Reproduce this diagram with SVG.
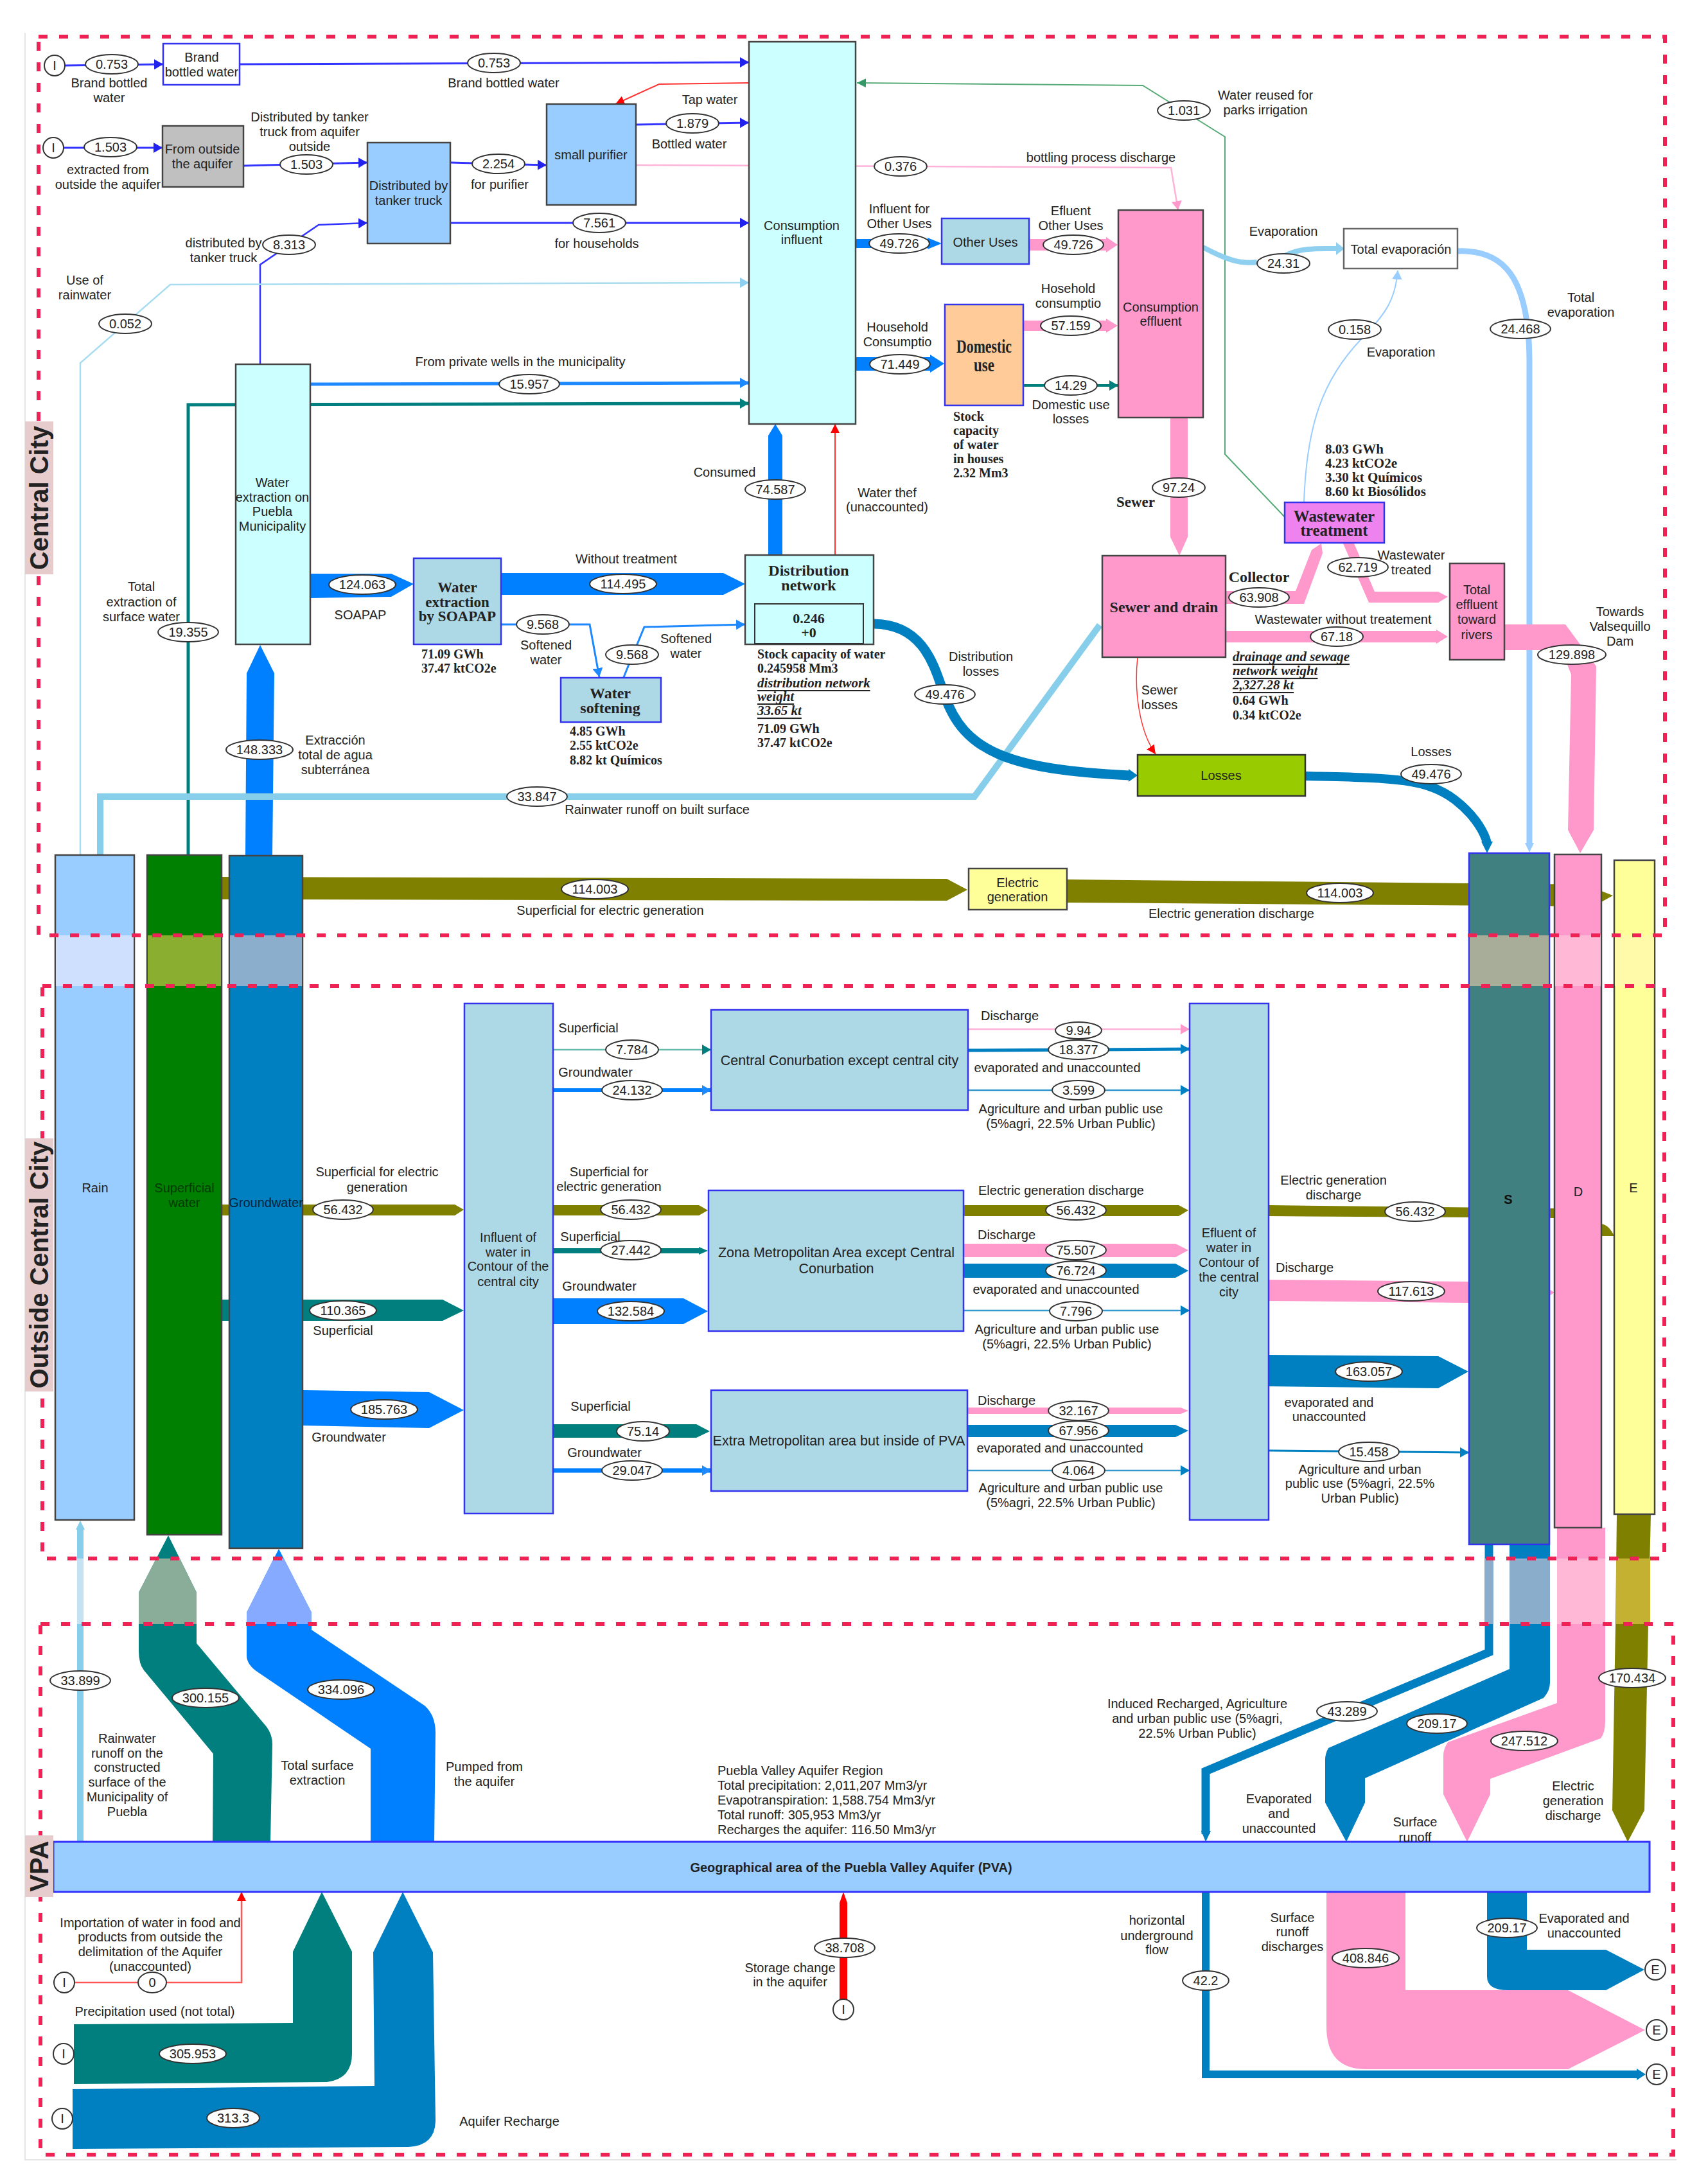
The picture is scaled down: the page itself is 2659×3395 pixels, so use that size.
<svg xmlns="http://www.w3.org/2000/svg" width="2659" height="3395" viewBox="0 0 2659 3395">
<style>
text{font-family:"Liberation Sans",Arial,sans-serif;font-size:20px;fill:#222;text-anchor:middle;dominant-baseline:central}
.l{text-anchor:start}
.s{font-family:"Liberation Serif","Times New Roman",serif;font-weight:bold;font-size:20px}
.u{font-style:italic;text-decoration:underline;font-size:21px}
.h{font-size:24px}
.t{font-size:21.5px}
.side{font-weight:bold;font-size:40px}
.side-bg{fill:#e6cccc}
.b{stroke:#444;stroke-width:2.5}
.bb{stroke:#3333ee;stroke-width:2.5}
.ell{fill:#fff;stroke:#333;stroke-width:2}
.frame{fill:none;stroke:#ee2255;stroke-width:6;stroke-dasharray:14 18}
.ln{fill:none}
.lblue{stroke:#3333ff;stroke-width:3}
.lazure{stroke:#1e88ff;stroke-width:3}
.lwell{stroke:#1e88ff;stroke-width:5}
.lteal{stroke:#007f7f;stroke-width:5}
.lmid{stroke:#3399cc;stroke-width:2.5}
.ldark{stroke:#0080c0}
.lsky{stroke:#a8dcf0;stroke-width:2.5}
.lpale{stroke:#99ccff;stroke-width:2}
.lpink{stroke:#ffb3d9;stroke-width:2.5}
.lred{stroke:#ff3333;stroke-width:2}
.lgreen{stroke:#55aa77;stroke-width:2}
.olive{fill:#808000}.pink{fill:#ff99cc}.teal{fill:#007f7f}.azure{fill:#0080ff}.dark{fill:#0080c0}
</style>
<defs>
<marker id="mBlue" markerUnits="userSpaceOnUse" markerWidth="14" markerHeight="16" viewBox="0 0 14 16" refX="14" refY="8" orient="auto"><path d="M0,0L14,8L0,16Z" fill="#2222ee"/></marker>
<marker id="mAzure" markerUnits="userSpaceOnUse" markerWidth="14" markerHeight="16" viewBox="0 0 14 16" refX="14" refY="8" orient="auto"><path d="M0,0L14,8L0,16Z" fill="#1e88ff"/></marker>
<marker id="mTeal" markerUnits="userSpaceOnUse" markerWidth="14" markerHeight="16" viewBox="0 0 14 16" refX="14" refY="8" orient="auto"><path d="M0,0L14,8L0,16Z" fill="#007f7f"/></marker>
<marker id="mDark" markerUnits="userSpaceOnUse" markerWidth="14" markerHeight="16" viewBox="0 0 14 16" refX="14" refY="8" orient="auto"><path d="M0,0L14,8L0,16Z" fill="#0080c0"/></marker>
<marker id="mSky" markerUnits="userSpaceOnUse" markerWidth="14" markerHeight="16" viewBox="0 0 14 16" refX="14" refY="8" orient="auto"><path d="M0,0L14,8L0,16Z" fill="#8fd0f0"/></marker>
<marker id="mPale" markerUnits="userSpaceOnUse" markerWidth="14" markerHeight="16" viewBox="0 0 14 16" refX="14" refY="8" orient="auto"><path d="M0,0L14,8L0,16Z" fill="#99ccff"/></marker>
<marker id="mPink" markerUnits="userSpaceOnUse" markerWidth="14" markerHeight="16" viewBox="0 0 14 16" refX="14" refY="8" orient="auto"><path d="M0,0L14,8L0,16Z" fill="#ff99cc"/></marker>
<marker id="mRed" markerUnits="userSpaceOnUse" markerWidth="14" markerHeight="14" viewBox="0 0 14 14" refX="14" refY="7" orient="auto"><path d="M0,0L14,7L0,14Z" fill="#ff0000"/></marker>
<marker id="mGreen" markerUnits="userSpaceOnUse" markerWidth="14" markerHeight="14" viewBox="0 0 14 14" refX="14" refY="7" orient="auto"><path d="M0,0L14,7L0,14Z" fill="#339966"/></marker>
</defs>
<rect width="2659" height="3395" fill="#fff"/>
<path d="M39,51V3362H2610" fill="none" stroke="#e6e6e6" stroke-width="2"/>

<g id="connectors">
<path class="ln lblue" d="M99,102L254,100" marker-end="url(#mBlue)"/>
<path class="ln lblue" d="M373,100L1166,97" marker-end="url(#mBlue)"/>
<path class="ln lred" d="M1166,129L1026,131L958,162" marker-end="url(#mRed)"/>
<path class="ln lblue" d="M99,230H253" marker-end="url(#mBlue)"/>
<path class="ln lblue" d="M379,258L572,253" marker-end="url(#mBlue)"/>
<path class="ln lblue" d="M701,253L851,257" marker-end="url(#mBlue)"/>
<path class="ln lblue" d="M990,194L1166,191" marker-end="url(#mBlue)"/>
<path class="ln lblue" d="M701,347H1166" marker-end="url(#mBlue)"/>
<path class="ln lblue" style="stroke-width:2.5" d="M405,567V412L496,350L572,347" marker-end="url(#mBlue)"/>
<path class="ln lpink" d="M990,257L1823,261L1834,327" marker-end="url(#mPink)"/>
<path class="ln lsky" d="M125,1331V565L265,443L1166,440" marker-end="url(#mSky)"/>
<path class="ln lwell" d="M483,598L1166,596" marker-end="url(#mAzure)"/>
<path class="ln lteal" d="M293,1331V630L1166,628" marker-end="url(#mTeal)"/>
<path class="ln lgreen" d="M2005,810L1907,707V213L1779,133L1334,129" marker-end="url(#mGreen)"/>
<path class="ln lred" d="M1300,864V660" marker-end="url(#mRed)"/>
<path class="ln lazure" d="M780,972H918L933,1054" marker-end="url(#mAzure)"/>
<path class="ln lazure" d="M971,1054L1003,976L1160,972" marker-end="url(#mAzure)"/>
<path class="ln lred" style="stroke-width:1.5" d="M1771,1023C1765,1080 1775,1140 1799,1174" marker-end="url(#mRed)"/>
<path class="ln lpale" d="M2030,782C2034,660 2060,590 2119,528C2155,490 2172,470 2176,421" marker-end="url(#mPale)"/>
<path class="ln" style="stroke:#8fd0f0;stroke-width:8" d="M1873,385C1905,402 1930,412 1957,408"/>
<path class="ln" style="stroke:#8fd0f0;stroke-width:8" d="M2000,398C2025,385 2055,387 2080,387"/>
<path d="M2080,377L2093,387L2080,397Z" fill="#8fd0f0"/>
<path class="ln" style="stroke:#99ccff;stroke-width:9" d="M2269,391C2340,388 2380,430 2381,560V1312"/>
<path d="M2374,1312H2388L2381,1327Z" fill="#99ccff"/>
<path class="ln lteal" style="stroke-width:4" d="M1593,600H1741" marker-end="url(#mTeal)"/>

<path class="azure" d="M1196,864V678L1207,660L1218,678V864Z"/>
<path class="azure" d="M1332,372H1444V370L1466,379L1444,388V386H1332Z"/>
<path class="azure" d="M1332,556H1448V552L1470,566L1448,580V577H1332Z"/>
<path class="pink" d="M1602,372H1722V369L1740,381L1722,393V390H1602Z"/>
<path class="pink" d="M1593,499H1722V496L1740,507L1722,518V515H1593Z"/>
<path class="pink" d="M1822,650H1849V836L1836,865L1822,836Z"/>
<path class="pink" d="M1908,920H2017L2042,856L2057,846L2059,861L2030,940H1908Z"/>
<path class="pink" d="M2091,846H2108L2140,921H2239L2254,929L2239,938H2131Z"/>
<path class="pink" d="M1908,982H2236V980L2254,991L2236,1002V1000H1908Z"/>
<path class="pink" d="M2342,972H2437L2485,1037L2481,1292L2460,1328L2441,1292L2446,1050L2431,1012H2342Z"/>
<path class="azure" d="M780,892H1126L1160,909L1126,926H780Z"/>
<path class="azure" d="M483,893H609L644,909L609,929L483,931Z"/>
<path class="azure" d="M382,1331L384,1048L405,1004L427,1048L424,1331Z"/>
<path class="ln" style="stroke:#87ceeb;stroke-width:10" d="M156,1331V1240H1517L1712,973"/>
<path class="ln ldark" style="stroke-width:15" d="M1360,971C1440,972 1455,1040 1470,1081C1500,1170 1570,1198 1758,1207"/>
<path class="dark" d="M1757,1197L1771,1207L1757,1217Z"/>
<path class="ln ldark" style="stroke-width:14" d="M2032,1208C2160,1211 2220,1210 2265,1245C2300,1272 2312,1300 2315,1312"/>
<path class="dark" d="M2306,1310H2324L2315,1328Z"/>
<path class="olive" d="M345,1365L1474,1368L1506,1385L1474,1402L345,1400Z"/>
<path class="olive" d="M1661,1369L2493,1377V1387L2511,1394L2493,1404V1411L1661,1405Z"/>

<path class="olive" d="M345,1875H708L722,1883L708,1892H345Z"/>
<path class="teal" d="M345,2023H689L722,2040L689,2056H345Z"/>
<path class="azure" d="M471,2164L668,2167L722,2195L668,2223L471,2219Z"/>
<path class="ln lteal" style="stroke:#66bbaa;stroke-width:2.5" d="M861,1634H1107" marker-end="url(#mTeal)"/>
<path class="ln" style="stroke:#0080ff;stroke-width:6" d="M861,1697H1107" marker-end="url(#mAzure)"/>
<path class="olive" d="M861,1876H1088L1102,1884L1088,1892H861Z"/>
<path class="teal" d="M861,1943H1088V1941L1102,1947L1088,1953V1951H861Z"/>
<path class="azure" d="M861,2021H1064L1102,2041L1064,2061H861Z"/>
<path class="teal" d="M861,2217H1084L1105,2228L1084,2238H861Z"/>
<path class="ln" style="stroke:#0080ff;stroke-width:7" d="M861,2289H1107" marker-end="url(#mAzure)"/>
<path class="ln lpink" d="M1507,1602H1852" marker-end="url(#mPink)"/>
<path class="ln ldark" style="stroke-width:5" d="M1507,1635L1852,1633" marker-end="url(#mDark)"/>
<path class="ln lmid" d="M1507,1697H1852" marker-end="url(#mDark)"/>
<path class="olive" d="M1500,1876H1835L1850,1884L1835,1893H1500Z"/>
<path class="pink" d="M1500,1936H1830L1850,1946L1830,1957H1500Z"/>
<path class="dark" d="M1500,1967H1830L1850,1978L1830,1989H1500Z"/>
<path class="ln lmid" d="M1500,2040H1852" marker-end="url(#mDark)"/>
<path class="pink" d="M1506,2191H1838L1850,2196L1838,2201H1506Z"/>
<path class="dark" d="M1506,2218H1830L1850,2227L1830,2237H1506Z"/>
<path class="ln lmid" d="M1506,2289H1852" marker-end="url(#mDark)"/>
<path class="olive" d="M1975,1876L2420,1881V1896L1975,1893Z"/>
<path class="olive" d="M2493,1905Q2505,1907 2513,1924H2493Z"/>
<path class="pink" d="M1975,1992L2287,1995V2028L1975,2025Z"/>
<path class="pink" d="M2410,2006L2420,2012L2410,2018Z"/>
<path class="dark" d="M1975,2109L2239,2111L2286,2135L2239,2161L1975,2158Z"/>
<path class="ln ldark" style="stroke-width:3" d="M1975,2258L2287,2261" marker-end="url(#mDark)"/>

<path class="ln" style="stroke:#87ceeb;stroke-width:10" d="M125,2867V2380"/>
<path d="M118,2381L125,2367L132,2381Z" fill="#87ceeb"/>
<path class="teal" d="M262,2390L216,2479V2570Q216,2590 224,2600L332,2730L331,2867H421L424,2715Q424,2700 415,2688L306,2558V2479Z"/>
<path class="azure" d="M434,2411L384,2510V2577Q384,2592 403,2604L577,2722V2867H676L678,2697Q678,2670 661,2655L485,2537V2510Z"/>
<path class="ln ldark" style="stroke-width:13" d="M2318,2404V2572L1877,2757V2855"/>
<path class="dark" d="M1870,2850H1885L1877,2867Z"/>
<path class="dark" d="M2350,2404H2413V2619Q2413,2632 2403,2643L2125,2768V2806L2096,2867L2063,2806V2739Q2063,2730 2068,2721L2350,2598Z"/>
<path class="pink" d="M2424,2378H2499V2679Q2499,2697 2492,2706L2320,2769V2793L2284,2867L2247,2793V2733Q2247,2722 2254,2712L2424,2651Z"/>
<path class="olive" d="M2517,2357H2570L2566,2528L2560,2818L2534,2867L2510,2818L2515,2528Z"/>
<g id="band2">
<path fill="#8aad9a" d="M243,2426H280L306,2479V2528H216V2479Z"/>
<path fill="#85aaff" d="M426,2426H442L485,2510V2528H384V2510Z"/>
<rect x="120" y="2426" width="10" height="102" fill="#c5e2f2"/>
<rect x="2311" y="2426" width="14" height="102" fill="#8aadcb"/>
<rect x="2350" y="2426" width="63" height="102" fill="#8aadcb"/>
<rect x="2424" y="2426" width="75" height="102" fill="#ffb8d6"/>
<rect x="2516" y="2426" width="53" height="102" fill="#c4b132"/>
</g>
<path class="ln" style="stroke:#ff5555;stroke-width:2.5" d="M100,3086H376V2945" marker-end="url(#mRed)"/>
<path fill="#ff0000" d="M1307,3113V2962L1313,2945L1319,2962V3113Z"/>
<path class="teal" d="M115,3151L456,3149V3038L501,2945L548,3038V3197Q548,3236 509,3241L115,3244Z"/>
<path class="dark" d="M113,3252L583,3247L581,3039L627,2945L674,3039L678,3300Q678,3340 636,3342L113,3345Z"/>
<path class="ln ldark" style="stroke-width:12" d="M1877,2945V3229H2550"/>
<path class="dark" d="M2548,3220L2562,3229L2548,3238Z"/>
<path class="pink" d="M2065,2945H2188V3098H2441L2561,3160L2441,3221H2127Q2065,3221 2065,3155Z"/>
<path class="dark" d="M2315,2945H2377V3035H2500L2560,3066L2500,3098H2348Q2315,3098 2315,3077Z"/>
</g>

<g id="node-rain"><rect class="b" x="86" y="1331" width="123" height="1035" fill="#99ccff"/><rect x="87" y="1456" width="121" height="79" fill="#cfe0ff"/><text x="148" y="1849">Rain</text></g>
<g id="node-superficial"><rect class="b" x="229" y="1331" width="116" height="1058" fill="#008000"/><rect x="230" y="1456" width="114" height="79" fill="#8aae30"/><text x="287" y="1849" style="fill:#003a00"><tspan x="287">Superficial</tspan><tspan x="287" dy="23">water</tspan></text></g>
<g id="node-groundwater"><rect class="b" x="357" y="1332" width="114" height="1078" fill="#0080c0"/><rect x="358" y="1456" width="112" height="79" fill="#8aaecb"/><text x="414" y="1872" style="fill:#04233c">Groundwater</text></g>
<g id="node-s"><rect class="bb" x="2287" y="1328" width="125" height="1076" fill="#408080"/><rect x="2288" y="1456" width="123" height="79" fill="#a8ad99"/><text x="2348" y="1867" style="font-weight:bold;fill:#111">S</text></g>
<g id="node-d"><rect class="b" x="2420" y="1330" width="73" height="1048" fill="#ff99cc"/><rect x="2421" y="1456" width="71" height="79" fill="#ffb8d6"/><text x="2457" y="1855">D</text></g>
<g id="node-e"><rect class="b" x="2513" y="1339" width="63" height="1018" fill="#ffff99"/><rect x="2514" y="1456" width="61" height="79" fill="#fffaaa"/><text x="2543" y="1849">E</text></g>

<g id="node-brand"><rect class="bb" x="254" y="68" width="119" height="64" fill="#fff"/><text x="314" y="89"><tspan x="314">Brand</tspan><tspan x="314" dy="23">bottled water</tspan></text></g>
<g id="node-outside"><rect class="b" x="253" y="196" width="126" height="95" fill="#c0c0c0"/><text x="315" y="232"><tspan x="315">From outside</tspan><tspan x="315" dy="23">the aquifer</tspan></text></g>
<g id="node-tanker"><rect class="b" x="572" y="222" width="129" height="157" fill="#99ccff"/><text x="636" y="289"><tspan x="636">Distributed by</tspan><tspan x="636" dy="23">tanker truck</tspan></text></g>
<g id="node-purifier"><rect class="b" x="851" y="162" width="139" height="157" fill="#99ccff"/><text x="920" y="241">small purifier</text></g>
<g id="node-consumption-influent"><rect class="b" x="1166" y="65" width="166" height="595" fill="#ccffff"/><text x="1248" y="351"><tspan x="1248">Consumption</tspan><tspan x="1248" dy="22">influent</tspan></text></g>
<g id="node-other-uses"><rect class="bb" x="1466" y="340" width="136" height="71" fill="#add8e6"/><text x="1534" y="377">Other Uses</text></g>
<g id="node-domestic"><rect class="bb" x="1471" y="474" width="122" height="157" fill="#ffcc99"/><text x="1532" y="538" class="s" style="font-size:30px" textLength="86" lengthAdjust="spacingAndGlyphs">Domestic</text><text x="1532" y="567" class="s" style="font-size:30px" textLength="32" lengthAdjust="spacingAndGlyphs">use</text></g>
<g id="node-consumption-effluent"><rect class="b" x="1741" y="327" width="132" height="323" fill="#ff99cc"/><text x="1807" y="478"><tspan x="1807">Consumption</tspan><tspan x="1807" dy="22">effluent</tspan></text></g>
<g id="node-evaporation"><rect x="2092" y="356" width="177" height="62" fill="#fff" stroke="#666" stroke-width="2.5"/><text x="2181" y="388">Total evaporación</text></g>
<g id="node-extraction"><rect class="b" x="367" y="567" width="116" height="436" fill="#ccffff"/><text x="424" y="751"><tspan x="424">Water</tspan><tspan x="424" dy="23">extraction on</tspan><tspan x="424" dy="22">Puebla</tspan><tspan x="424" dy="23">Municipality</tspan></text></g>
<g id="node-soapap"><rect class="bb" x="644" y="869" width="136" height="134" fill="#add8e6"/><text x="712" y="914" class="s" style="font-size:23px"><tspan x="712">Water</tspan><tspan x="712" dy="23">extraction</tspan><tspan x="712" dy="22">by SOAPAP</tspan></text></g>
<g id="node-softening"><rect class="bb" x="873" y="1055" width="156" height="69" fill="#add8e6"/><text x="950" y="1079" class="s h"><tspan x="950">Water</tspan><tspan x="950" dy="23">softening</tspan></text></g>
<g id="node-distribution"><rect class="b" x="1160" y="864" width="200" height="139" fill="#ccffff"/><rect x="1175" y="940" width="169" height="62" fill="#ccffff" stroke="#333" stroke-width="2"/><text x="1259" y="888" class="s h"><tspan x="1259">Distribution</tspan><tspan x="1259" dy="23">network</tspan></text><text x="1259" y="962" class="s" style="font-size:22px"><tspan x="1259">0.246</tspan><tspan x="1259" dy="22">+0</tspan></text></g>
<g id="node-wastewater"><rect class="bb" x="2000" y="782" width="155" height="63" fill="#ee82ee"/><text x="2077" y="803" class="s" style="font-size:25px"><tspan x="2077">Wastewater</tspan><tspan x="2077" dy="22">treatment</tspan></text></g>
<g id="node-sewer"><rect class="b" x="1716" y="865" width="192" height="158" fill="#ff99cc"/><text x="1812" y="945" class="s h">Sewer and drain</text></g>
<g id="node-effluent-rivers"><rect class="b" x="2257" y="877" width="85" height="150" fill="#ff99cc"/><text x="2299" y="918"><tspan x="2299">Total</tspan><tspan x="2299" dy="23">effluent</tspan><tspan x="2299" dy="23">toward</tspan><tspan x="2299" dy="24">rivers</tspan></text></g>
<g id="node-losses"><rect x="1771" y="1175" width="261" height="64" fill="#99cc00" stroke="#333" stroke-width="2.5"/><text x="1901" y="1207">Losses</text></g>
<g id="node-electric"><rect class="b" x="1508" y="1352" width="153" height="64" fill="#ffff99"/><text x="1584" y="1374"><tspan x="1584">Electric</tspan><tspan x="1584" dy="22">generation</tspan></text></g>
<g id="node-influent-contour"><rect class="bb" x="723" y="1562" width="138" height="794" fill="#add8e6"/><text x="791" y="1926"><tspan x="791">Influent of</tspan><tspan x="791" dy="23">water in</tspan><tspan x="791" dy="22">Contour of the</tspan><tspan x="791" dy="24">central city</tspan></text></g>
<g id="node-central"><rect class="bb" x="1107" y="1572" width="400" height="156" fill="#add8e6"/><text x="1307" y="1651" class="t">Central Conurbation except central city</text></g>
<g id="node-zona"><rect class="bb" x="1103" y="1853" width="397" height="219" fill="#add8e6"/><text x="1302" y="1950" class="t"><tspan x="1302">Zona Metropolitan Area except Central</tspan><tspan x="1302" dy="25">Conurbation</tspan></text></g>
<g id="node-extra"><rect class="bb" x="1107" y="2164" width="399" height="157" fill="#add8e6"/><text x="1306" y="2243" class="t">Extra Metropolitan area but inside of PVA</text></g>
<g id="node-effluent-contour"><rect class="bb" x="1852" y="1562" width="123" height="804" fill="#add8e6"/><text x="1913" y="1919"><tspan x="1913">Efluent of</tspan><tspan x="1913" dy="23">water in</tspan><tspan x="1913" dy="23">Contour of</tspan><tspan x="1913" dy="23">the central</tspan><tspan x="1913" dy="23">city</tspan></text></g>
<g id="node-pva"><rect x="83" y="2867" width="2485" height="78" fill="#99ccff" stroke="#3333ff" stroke-width="3"/><text x="1325" y="2907" style="font-weight:bold;font-size:20px">Geographical area of the Puebla Valley Aquifer (PVA)</text></g>

<g id="terminals">
<g id="node-i1"><ellipse class="ell" cx="85" cy="102" rx="16" ry="16"/><text x="85" y="102">I</text></g>
<g id="node-i2"><ellipse class="ell" cx="83" cy="230" rx="16" ry="16"/><text x="83" y="230">I</text></g>
<g id="node-i3"><ellipse class="ell" cx="100" cy="3086" rx="16" ry="16"/><text x="100" y="3086">I</text></g>
<g id="node-i4"><ellipse class="ell" cx="99" cy="3197" rx="16" ry="16"/><text x="99" y="3197">I</text></g>
<g id="node-i5"><ellipse class="ell" cx="97" cy="3298" rx="16" ry="16"/><text x="97" y="3298">I</text></g>
<g id="node-i6"><ellipse class="ell" cx="1313" cy="3128" rx="16" ry="16"/><text x="1313" y="3128">I</text></g>
<g id="node-e1"><ellipse class="ell" cx="2577" cy="3066" rx="16" ry="16"/><text x="2577" y="3066">E</text></g>
<g id="node-e2"><ellipse class="ell" cx="2579" cy="3160" rx="16" ry="16"/><text x="2579" y="3160">E</text></g>
<g id="node-e3"><ellipse class="ell" cx="2579" cy="3229" rx="16" ry="16"/><text x="2579" y="3229">E</text></g>
</g>

<g id="value-labels">
<g><ellipse class="ell" cx="174" cy="100" rx="41" ry="15"/><text x="174" y="100">0.753</text></g>
<g><ellipse class="ell" cx="769" cy="98" rx="41" ry="15"/><text x="769" y="98">0.753</text></g>
<g><ellipse class="ell" cx="172" cy="229" rx="41" ry="15"/><text x="172" y="229">1.503</text></g>
<g><ellipse class="ell" cx="477" cy="256" rx="41" ry="15"/><text x="477" y="256">1.503</text></g>
<g><ellipse class="ell" cx="776" cy="255" rx="41" ry="15"/><text x="776" y="255">2.254</text></g>
<g><ellipse class="ell" cx="1078" cy="192" rx="41" ry="15"/><text x="1078" y="192">1.879</text></g>
<g><ellipse class="ell" cx="933" cy="347" rx="41" ry="15"/><text x="933" y="347">7.561</text></g>
<g><ellipse class="ell" cx="450" cy="381" rx="41" ry="15"/><text x="450" y="381">8.313</text></g>
<g><ellipse class="ell" cx="195" cy="504" rx="41" ry="15"/><text x="195" y="504">0.052</text></g>
<g><ellipse class="ell" cx="824" cy="598" rx="47" ry="15"/><text x="824" y="598">15.957</text></g>
<g><ellipse class="ell" cx="1402" cy="259" rx="41" ry="15"/><text x="1402" y="259">0.376</text></g>
<g><ellipse class="ell" cx="1843" cy="172" rx="41" ry="15"/><text x="1843" y="172">1.031</text></g>
<g><ellipse class="ell" cx="1400" cy="379" rx="47" ry="15"/><text x="1400" y="379">49.726</text></g>
<g><ellipse class="ell" cx="1671" cy="381" rx="47" ry="15"/><text x="1671" y="381">49.726</text></g>
<g><ellipse class="ell" cx="1401" cy="567" rx="47" ry="15"/><text x="1401" y="567">71.449</text></g>
<g><ellipse class="ell" cx="1667" cy="507" rx="47" ry="15"/><text x="1667" y="507">57.159</text></g>
<g><ellipse class="ell" cx="1667" cy="600" rx="41" ry="15"/><text x="1667" y="600">14.29</text></g>
<g><ellipse class="ell" cx="1998" cy="410" rx="41" ry="15"/><text x="1998" y="410">24.31</text></g>
<g><ellipse class="ell" cx="2367" cy="512" rx="47" ry="15"/><text x="2367" y="512">24.468</text></g>
<g><ellipse class="ell" cx="2109" cy="513" rx="41" ry="15"/><text x="2109" y="513">0.158</text></g>
<g><ellipse class="ell" cx="1207" cy="762" rx="47" ry="15"/><text x="1207" y="762">74.587</text></g>
<g><ellipse class="ell" cx="1835" cy="759" rx="41" ry="15"/><text x="1835" y="759">97.24</text></g>
<g><ellipse class="ell" cx="1960" cy="930" rx="47" ry="15"/><text x="1960" y="930">63.908</text></g>
<g><ellipse class="ell" cx="2114" cy="883" rx="47" ry="15"/><text x="2114" y="883">62.719</text></g>
<g><ellipse class="ell" cx="2081" cy="991" rx="41" ry="15"/><text x="2081" y="991">67.18</text></g>
<g><ellipse class="ell" cx="2447" cy="1019" rx="53" ry="15"/><text x="2447" y="1019">129.898</text></g>
<g><ellipse class="ell" cx="970" cy="909" rx="52" ry="15"/><text x="970" y="909">114.495</text></g>
<g><ellipse class="ell" cx="564" cy="910" rx="52" ry="15"/><text x="564" y="910">124.063</text></g>
<g><ellipse class="ell" cx="845" cy="972" rx="41" ry="15"/><text x="845" y="972">9.568</text></g>
<g><ellipse class="ell" cx="984" cy="1019" rx="41" ry="15"/><text x="984" y="1019">9.568</text></g>
<g><ellipse class="ell" cx="293" cy="984" rx="47" ry="15"/><text x="293" y="984">19.355</text></g>
<g><ellipse class="ell" cx="404" cy="1167" rx="52" ry="15"/><text x="404" y="1167">148.333</text></g>
<g><ellipse class="ell" cx="836" cy="1240" rx="47" ry="15"/><text x="836" y="1240">33.847</text></g>
<g><ellipse class="ell" cx="1471" cy="1081" rx="47" ry="15"/><text x="1471" y="1081">49.476</text></g>
<g><ellipse class="ell" cx="2228" cy="1205" rx="47" ry="15"/><text x="2228" y="1205">49.476</text></g>
<g><ellipse class="ell" cx="926" cy="1384" rx="52" ry="15"/><text x="926" y="1384">114.003</text></g>
<g><ellipse class="ell" cx="2086" cy="1390" rx="52" ry="15"/><text x="2086" y="1390">114.003</text></g>
<g><ellipse class="ell" cx="534" cy="1883" rx="47" ry="15"/><text x="534" y="1883">56.432</text></g>
<g><ellipse class="ell" cx="534" cy="2040" rx="52" ry="15"/><text x="534" y="2040">110.365</text></g>
<g><ellipse class="ell" cx="598" cy="2194" rx="52" ry="15"/><text x="598" y="2194">185.763</text></g>
<g><ellipse class="ell" cx="984" cy="1634" rx="41" ry="15"/><text x="984" y="1634">7.784</text></g>
<g><ellipse class="ell" cx="984" cy="1697" rx="47" ry="15"/><text x="984" y="1697">24.132</text></g>
<g><ellipse class="ell" cx="982" cy="1883" rx="47" ry="15"/><text x="982" y="1883">56.432</text></g>
<g><ellipse class="ell" cx="982" cy="1946" rx="47" ry="15"/><text x="982" y="1946">27.442</text></g>
<g><ellipse class="ell" cx="982" cy="2041" rx="52" ry="15"/><text x="982" y="2041">132.584</text></g>
<g><ellipse class="ell" cx="1001" cy="2228" rx="41" ry="15"/><text x="1001" y="2228">75.14</text></g>
<g><ellipse class="ell" cx="984" cy="2289" rx="47" ry="15"/><text x="984" y="2289">29.047</text></g>
<g><ellipse class="ell" cx="1679" cy="1604" rx="36" ry="13"/><text x="1679" y="1604">9.94</text></g>
<g><ellipse class="ell" cx="1679" cy="1634" rx="47" ry="15"/><text x="1679" y="1634">18.377</text></g>
<g><ellipse class="ell" cx="1679" cy="1697" rx="41" ry="15"/><text x="1679" y="1697">3.599</text></g>
<g><ellipse class="ell" cx="1675" cy="1884" rx="47" ry="15"/><text x="1675" y="1884">56.432</text></g>
<g><ellipse class="ell" cx="1675" cy="1946" rx="47" ry="15"/><text x="1675" y="1946">75.507</text></g>
<g><ellipse class="ell" cx="1675" cy="1978" rx="47" ry="15"/><text x="1675" y="1978">76.724</text></g>
<g><ellipse class="ell" cx="1675" cy="2041" rx="41" ry="15"/><text x="1675" y="2041">7.796</text></g>
<g><ellipse class="ell" cx="1679" cy="2196" rx="47" ry="15"/><text x="1679" y="2196">32.167</text></g>
<g><ellipse class="ell" cx="1679" cy="2227" rx="47" ry="15"/><text x="1679" y="2227">67.956</text></g>
<g><ellipse class="ell" cx="1679" cy="2289" rx="41" ry="15"/><text x="1679" y="2289">4.064</text></g>
<g><ellipse class="ell" cx="2203" cy="1886" rx="47" ry="15"/><text x="2203" y="1886">56.432</text></g>
<g><ellipse class="ell" cx="2197" cy="2010" rx="52" ry="15"/><text x="2197" y="2010">117.613</text></g>
<g><ellipse class="ell" cx="2131" cy="2135" rx="52" ry="15"/><text x="2131" y="2135">163.057</text></g>
<g><ellipse class="ell" cx="2131" cy="2260" rx="47" ry="15"/><text x="2131" y="2260">15.458</text></g>
<g><ellipse class="ell" cx="125" cy="2616" rx="47" ry="15"/><text x="125" y="2616">33.899</text></g>
<g><ellipse class="ell" cx="320" cy="2643" rx="52" ry="15"/><text x="320" y="2643">300.155</text></g>
<g><ellipse class="ell" cx="531" cy="2630" rx="52" ry="15"/><text x="531" y="2630">334.096</text></g>
<g><ellipse class="ell" cx="2097" cy="2664" rx="47" ry="15"/><text x="2097" y="2664">43.289</text></g>
<g><ellipse class="ell" cx="2237" cy="2683" rx="47" ry="15"/><text x="2237" y="2683">209.17</text></g>
<g><ellipse class="ell" cx="2373" cy="2710" rx="52" ry="15"/><text x="2373" y="2710">247.512</text></g>
<g><ellipse class="ell" cx="2541" cy="2612" rx="52" ry="15"/><text x="2541" y="2612">170.434</text></g>
<g><ellipse class="ell" cx="237" cy="3086" rx="22" ry="16"/><text x="237" y="3086">0</text></g>
<g><ellipse class="ell" cx="300" cy="3197" rx="52" ry="15"/><text x="300" y="3197">305.953</text></g>
<g><ellipse class="ell" cx="363" cy="3297" rx="41" ry="15"/><text x="363" y="3297">313.3</text></g>
<g><ellipse class="ell" cx="1315" cy="3032" rx="47" ry="15"/><text x="1315" y="3032">38.708</text></g>
<g><ellipse class="ell" cx="1877" cy="3083" rx="36" ry="15"/><text x="1877" y="3083">42.2</text></g>
<g><ellipse class="ell" cx="2126" cy="3048" rx="52" ry="15"/><text x="2126" y="3048">408.846</text></g>
<g><ellipse class="ell" cx="2346" cy="3001" rx="47" ry="15"/><text x="2346" y="3001">209.17</text></g>
</g>

<g id="text-labels">
<text x="170" y="129"><tspan x="170">Brand bottled</tspan><tspan x="170" dy="23">water</tspan></text>
<text x="784" y="129">Brand bottled water</text>
<text x="1105" y="155">Tap water</text>
<text x="168" y="264"><tspan x="168">extracted from</tspan><tspan x="168" dy="23">outside the aquifer</tspan></text>
<text x="482" y="182"><tspan x="482">Distributed by tanker</tspan><tspan x="482" dy="23">truck from aquifer</tspan><tspan x="482" dy="23">outside</tspan></text>
<text x="778" y="287">for purifier</text>
<text x="1073" y="224">Bottled water</text>
<text x="929" y="379">for households</text>
<text x="348" y="378"><tspan x="348">distributed by</tspan><tspan x="348" dy="23">tanker truck</tspan></text>
<text x="132" y="436"><tspan x="132">Use of</tspan><tspan x="132" dy="23">rainwater</tspan></text>
<text x="810" y="563">From private wells in the municipality</text>
<text x="1714" y="245">bottling process discharge</text>
<text x="1970" y="148"><tspan x="1970">Water reused for</tspan><tspan x="1970" dy="23">parks irrigation</tspan></text>
<text x="1400" y="325"><tspan x="1400">Influent for</tspan><tspan x="1400" dy="23">Other Uses</tspan></text>
<text x="1667" y="328"><tspan x="1667">Efluent</tspan><tspan x="1667" dy="23">Other Uses</tspan></text>
<text x="1397" y="509"><tspan x="1397">Household</tspan><tspan x="1397" dy="23">Consumptio</tspan></text>
<text x="1663" y="449"><tspan x="1663">Hosehold</tspan><tspan x="1663" dy="23">consumptio</tspan></text>
<text x="1667" y="630"><tspan x="1667">Domestic use</tspan><tspan x="1667" dy="22">losses</tspan></text>
<text x="1484" y="648" class="s l"><tspan x="1484">Stock</tspan><tspan x="1484" dy="22">capacity</tspan><tspan x="1484" dy="22">of water</tspan><tspan x="1484" dy="22">in houses</tspan><tspan x="1484" dy="22">2.32 Mm3</tspan></text>
<text x="1998" y="360">Evaporation</text>
<text x="2461" y="463"><tspan x="2461">Total</tspan><tspan x="2461" dy="23">evaporation</tspan></text>
<text x="2181" y="548">Evaporation</text>
<text x="2063" y="699" class="s l" style="font-size:21px"><tspan x="2063">8.03 GWh</tspan><tspan x="2063" dy="22">4.23 ktCO2e</tspan><tspan x="2063" dy="22">3.30 kt Químicos</tspan><tspan x="2063" dy="22">8.60 kt Biosólidos</tspan></text>
<text x="1128" y="735">Consumed</text>
<text x="1381" y="767"><tspan x="1381">Water thef</tspan><tspan x="1381" dy="22">(unaccounted)</tspan></text>
<text x="1768" y="781" class="s" style="font-size:23px">Sewer</text>
<text x="1960" y="898" class="s h">Collector</text>
<text x="2197" y="864"><tspan x="2197">Wastewater</tspan><tspan x="2197" dy="23">treated</tspan></text>
<text x="2091" y="964">Wastewater without treatement</text>
<text x="2522" y="952"><tspan x="2522">Towards</tspan><tspan x="2522" dy="23">Valsequillo</tspan><tspan x="2522" dy="23">Dam</tspan></text>
<text x="975" y="870">Without treatment</text>
<text x="561" y="957">SOAPAP</text>
<text x="656" y="1018" class="s l"><tspan x="656">71.09 GWh</tspan><tspan x="656" dy="22">37.47 ktCO2e</tspan></text>
<text x="850" y="1004"><tspan x="850">Softened</tspan><tspan x="850" dy="23">water</tspan></text>
<text x="1068" y="994"><tspan x="1068">Softened</tspan><tspan x="1068" dy="23">water</tspan></text>
<text x="887" y="1138" class="s l"><tspan x="887">4.85 GWh</tspan><tspan x="887" dy="22">2.55 ktCO2e</tspan><tspan x="887" dy="23">8.82 kt Químicos</tspan></text>
<text x="1179" y="1018" class="s l">Stock capacity of water</text>
<text x="1179" y="1040" class="s l">0.245958 Mm3</text>
<text x="1179" y="1063" class="s l u">distribution network</text>
<text x="1179" y="1084" class="s l u">weight</text>
<text x="1179" y="1106" class="s l u">33.65 kt</text>
<text x="1179" y="1134" class="s l">71.09 GWh</text>
<text x="1179" y="1156" class="s l">37.47 ktCO2e</text>
<text x="1527" y="1022"><tspan x="1527">Distribution</tspan><tspan x="1527" dy="23">losses</tspan></text>
<text x="1805" y="1074"><tspan x="1805">Sewer</tspan><tspan x="1805" dy="23">losses</tspan></text>
<text x="1919" y="1022" class="s l u">drainage and sewage</text>
<text x="1919" y="1044" class="s l u">network weight</text>
<text x="1919" y="1066" class="s l u">2,327.28 kt</text>
<text x="1919" y="1090" class="s l">0.64 GWh</text>
<text x="1919" y="1113" class="s l">0.34 ktCO2e</text>
<text x="2228" y="1170">Losses</text>
<text x="220" y="913"><tspan x="220">Total</tspan><tspan x="220" dy="24">extraction of</tspan><tspan x="220" dy="23">surface water</tspan></text>
<text x="522" y="1152"><tspan x="522">Extracción</tspan><tspan x="522" dy="23">total de agua</tspan><tspan x="522" dy="23">subterránea</tspan></text>
<text x="1023" y="1260">Rainwater runoff on built surface</text>
<text x="950" y="1417">Superficial for electric generation</text>
<text x="1917" y="1422">Electric generation discharge</text>
<text x="587" y="1824"><tspan x="587">Superficial for electric</tspan><tspan x="587" dy="24">generation</tspan></text>
<text x="534" y="2071">Superficial</text>
<text x="543" y="2237">Groundwater</text>
<text x="916" y="1600">Superficial</text>
<text x="927" y="1669">Groundwater</text>
<text x="948" y="1824"><tspan x="948">Superficial for</tspan><tspan x="948" dy="23">electric generation</tspan></text>
<text x="919" y="1925">Superficial</text>
<text x="933" y="2002">Groundwater</text>
<text x="935" y="2189">Superficial</text>
<text x="941" y="2261">Groundwater</text>
<text x="1572" y="1581">Discharge</text>
<text x="1646" y="1662">evaporated and unaccounted</text>
<text x="1667" y="1726"><tspan x="1667">Agriculture and urban public use</tspan><tspan x="1667" dy="23">(5%agri, 22.5% Urban Public)</tspan></text>
<text x="1652" y="1853">Electric generation discharge</text>
<text x="1567" y="1922">Discharge</text>
<text x="1644" y="2007">evaporated and unaccounted</text>
<text x="1661" y="2069"><tspan x="1661">Agriculture and urban public use</tspan><tspan x="1661" dy="23">(5%agri, 22.5% Urban Public)</tspan></text>
<text x="1567" y="2180">Discharge</text>
<text x="1650" y="2254">evaporated and unaccounted</text>
<text x="1667" y="2316"><tspan x="1667">Agriculture and urban public use</tspan><tspan x="1667" dy="23">(5%agri, 22.5% Urban Public)</tspan></text>
<text x="2076" y="1837"><tspan x="2076">Electric generation</tspan><tspan x="2076" dy="23">discharge</tspan></text>
<text x="2031" y="1973">Discharge</text>
<text x="2069" y="2183"><tspan x="2069">evaporated and</tspan><tspan x="2069" dy="22">unaccounted</tspan></text>
<text x="2117" y="2287"><tspan x="2117">Agriculture and urban</tspan><tspan x="2117" dy="22">public use (5%agri, 22.5%</tspan><tspan x="2117" dy="23">Urban Public)</tspan></text>
<text x="198" y="2706"><tspan x="198">Rainwater</tspan><tspan x="198" dy="23">runoff on the</tspan><tspan x="198" dy="22">constructed</tspan><tspan x="198" dy="23">surface of the</tspan><tspan x="198" dy="23">Municipality of</tspan><tspan x="198" dy="23">Puebla</tspan></text>
<text x="494" y="2748"><tspan x="494">Total surface</tspan><tspan x="494" dy="23">extraction</tspan></text>
<text x="754" y="2750"><tspan x="754">Pumped from</tspan><tspan x="754" dy="23">the aquifer</tspan></text>
<text x="1117" y="2756" class="l"><tspan x="1117">Puebla Valley Aquifer Region</tspan><tspan x="1117" dy="23">Total precipitation: 2,011,207 Mm3/yr</tspan><tspan x="1117" dy="23">Evapotranspiration: 1,588.754 Mm3/yr</tspan><tspan x="1117" dy="23">Total runoff: 305,953 Mm3/yr</tspan><tspan x="1117" dy="23">Recharges the aquifer: 116.50 Mm3/yr</tspan></text>
<text x="1864" y="2652"><tspan x="1864">Induced Recharged, Agriculture</tspan><tspan x="1864" dy="23">and urban public use (5%agri,</tspan><tspan x="1864" dy="23">22.5% Urban Public)</tspan></text>
<text x="1991" y="2800"><tspan x="1991">Evaporated</tspan><tspan x="1991" dy="23">and</tspan><tspan x="1991" dy="23">unaccounted</tspan></text>
<text x="2203" y="2836"><tspan x="2203">Surface</tspan><tspan x="2203" dy="24">runoff</tspan></text>
<text x="2449" y="2780"><tspan x="2449">Electric</tspan><tspan x="2449" dy="23">generation</tspan><tspan x="2449" dy="23">discharge</tspan></text>
<text x="234" y="2993"><tspan x="234">Importation of water in food and</tspan><tspan x="234" dy="22">products from outside the</tspan><tspan x="234" dy="23">delimitation of the Aquifer</tspan><tspan x="234" dy="23">(unaccounted)</tspan></text>
<text x="241" y="3131">Precipitation used (not total)</text>
<text x="793" y="3302">Aquifer Recharge</text>
<text x="1230" y="3063"><tspan x="1230">Storage change</tspan><tspan x="1230" dy="22">in the aquifer</tspan></text>
<text x="1801" y="2989"><tspan x="1801">horizontal</tspan><tspan x="1801" dy="24">underground</tspan><tspan x="1801" dy="22">flow</tspan></text>
<text x="2012" y="2985"><tspan x="2012">Surface</tspan><tspan x="2012" dy="22">runoff</tspan><tspan x="2012" dy="23">discharges</tspan></text>
<text x="2466" y="2986"><tspan x="2466">Evaporated and</tspan><tspan x="2466" dy="23">unaccounted</tspan></text>
</g>

<g id="frames">
<rect class="frame" x="60" y="57" width="2532" height="1399"/>
<rect class="frame" x="66" y="1535" width="2525" height="891"/>
<rect class="frame" x="63" y="2528" width="2542" height="826"/>
</g>
<g id="section-labels">
<rect class="side-bg" x="39" y="656" width="44" height="238"/>
<text class="side" transform="translate(61,775) rotate(-90)">Central City</text>
<rect class="side-bg" x="39" y="1772" width="44" height="394"/>
<text class="side" transform="translate(61,1969) rotate(-90)">Outside Central City</text>
<rect class="side-bg" x="39" y="2857" width="44" height="96"/>
<text class="side" transform="translate(61,2905) rotate(-90)">VPA</text>
</g>
</svg>
